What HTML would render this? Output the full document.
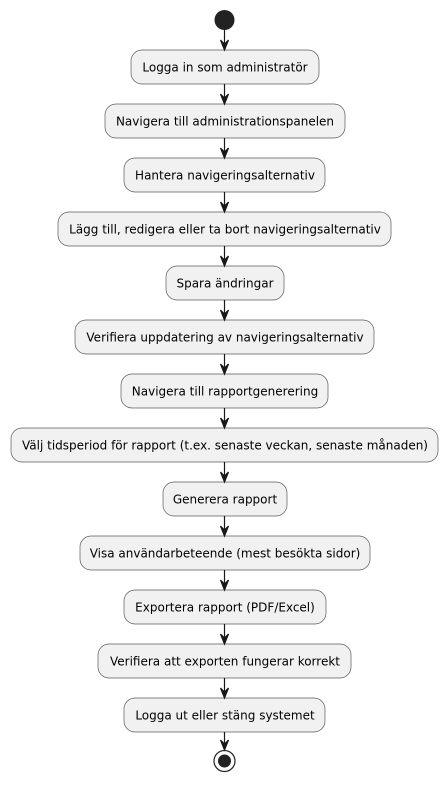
<!DOCTYPE html>
<html><head><meta charset="utf-8"><style>
html,body{margin:0;padding:0;background:#fff;}
svg text{font-family:"DejaVu Sans","Liberation Sans",sans-serif;font-size:12px;fill:#000;}
</style></head><body>
<svg width="448" height="783" viewBox="0 0 448 783" xmlns="http://www.w3.org/2000/svg">
<circle cx="224.5" cy="20" r="10" fill="#222"/>
<g fill="#F1F1F1" stroke="#5b5b5b" stroke-width="0.7">
<rect x="131" y="50" width="188" height="34" rx="11"/>
<rect x="105" y="104" width="240" height="34" rx="11"/>
<rect x="124" y="158" width="201" height="34" rx="11"/>
<rect x="58" y="212" width="333" height="34" rx="11"/>
<rect x="166" y="266" width="118" height="34" rx="11"/>
<rect x="75" y="320" width="299" height="34" rx="11"/>
<rect x="121" y="374" width="207" height="34" rx="11"/>
<rect x="11" y="428" width="427" height="34" rx="11"/>
<rect x="163" y="482" width="124" height="34" rx="11"/>
<rect x="80" y="536" width="290" height="34" rx="11"/>
<rect x="124" y="590" width="202" height="34" rx="11"/>
<rect x="98" y="644" width="253" height="34" rx="11"/>
<rect x="124" y="698" width="201" height="34" rx="11"/>
</g>
<g text-anchor="middle">
<text x="225" y="71.5">Logga in som administratör</text>
<text x="225" y="125.5">Navigera till administrationspanelen</text>
<text x="225" y="179.5">Hantera navigeringsalternativ</text>
<text x="225" y="233.5">Lägg till, redigera eller ta bort navigeringsalternativ</text>
<text x="225" y="287.5">Spara ändringar</text>
<text x="225" y="341.5">Verifiera uppdatering av navigeringsalternativ</text>
<text x="225" y="395.5">Navigera till rapportgenerering</text>
<text x="225" y="449.5">Välj tidsperiod för rapport (t.ex. senaste veckan, senaste månaden)</text>
<text x="225" y="503.5">Generera rapport</text>
<text x="225" y="557.5">Visa användarbeteende (mest besökta sidor)</text>
<text x="225" y="611.5">Exportera rapport (PDF/Excel)</text>
<text x="225" y="665.5">Verifiera att exporten fungerar korrekt</text>
<text x="225" y="719.5">Logga ut eller stäng systemet</text>
</g>
<g stroke="#181818" stroke-width="1.2" fill="#181818">
<line x1="224.5" y1="30" x2="224.5" y2="48"/>
<path d="M220.5 40 L224.5 50 L228.5 40 L224.5 44 Z"/>
<line x1="224.5" y1="84" x2="224.5" y2="102"/><path d="M220.5 94 L224.5 104 L228.5 94 L224.5 98 Z"/>
<line x1="224.5" y1="138" x2="224.5" y2="156"/><path d="M220.5 148 L224.5 158 L228.5 148 L224.5 152 Z"/>
<line x1="224.5" y1="192" x2="224.5" y2="210"/><path d="M220.5 202 L224.5 212 L228.5 202 L224.5 206 Z"/>
<line x1="224.5" y1="246" x2="224.5" y2="264"/><path d="M220.5 256 L224.5 266 L228.5 256 L224.5 260 Z"/>
<line x1="224.5" y1="300" x2="224.5" y2="318"/><path d="M220.5 310 L224.5 320 L228.5 310 L224.5 314 Z"/>
<line x1="224.5" y1="354" x2="224.5" y2="372"/><path d="M220.5 364 L224.5 374 L228.5 364 L224.5 368 Z"/>
<line x1="224.5" y1="408" x2="224.5" y2="426"/><path d="M220.5 418 L224.5 428 L228.5 418 L224.5 422 Z"/>
<line x1="224.5" y1="462" x2="224.5" y2="480"/><path d="M220.5 472 L224.5 482 L228.5 472 L224.5 476 Z"/>
<line x1="224.5" y1="516" x2="224.5" y2="534"/><path d="M220.5 526 L224.5 536 L228.5 526 L224.5 530 Z"/>
<line x1="224.5" y1="570" x2="224.5" y2="588"/><path d="M220.5 580 L224.5 590 L228.5 580 L224.5 584 Z"/>
<line x1="224.5" y1="624" x2="224.5" y2="642"/><path d="M220.5 634 L224.5 644 L228.5 634 L224.5 638 Z"/>
<line x1="224.5" y1="678" x2="224.5" y2="696"/><path d="M220.5 688 L224.5 698 L228.5 688 L224.5 692 Z"/>
<line x1="224.5" y1="732" x2="224.5" y2="748"/><path d="M220.5 740 L224.5 750 L228.5 740 L224.5 744 Z"/>
</g>
<circle cx="224.5" cy="761" r="10.5" fill="none" stroke="#222" stroke-width="1.2"/>
<circle cx="224.5" cy="761" r="6.5" fill="#222"/>
</svg>
</body></html>
